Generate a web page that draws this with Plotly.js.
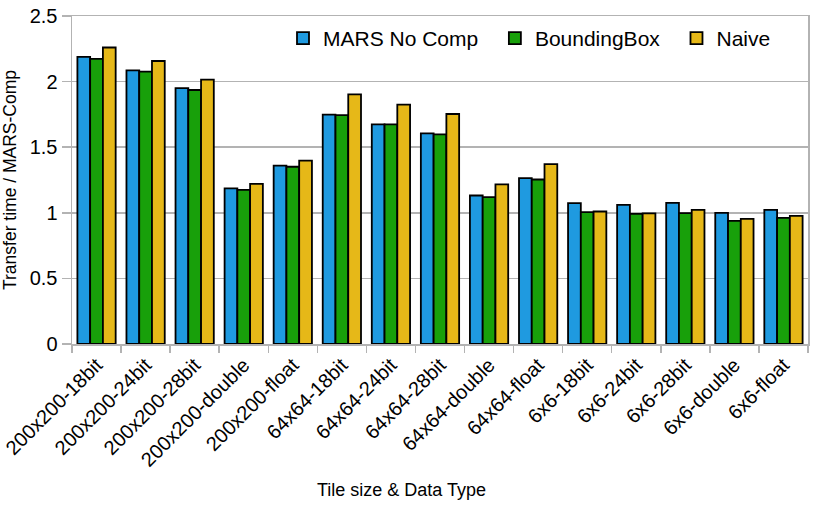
<!DOCTYPE html>
<html><head><meta charset="utf-8">
<script src="https://cdn.plot.ly/plotly-3.0.1.min.js"></script>
<style>html,body{margin:0;padding:0;background:#fff}#c{width:830px;height:507px}</style>
</head><body><div id="c"></div>
<script>
const categories = ["200x200-18bit","200x200-24bit","200x200-28bit","200x200-double","200x200-float","64x64-18bit","64x64-24bit","64x64-28bit","64x64-double","64x64-float","6x6-18bit","6x6-24bit","6x6-28bit","6x6-double","6x6-float"];
const marsNoComp = [2.188,2.086,1.951,1.186,1.359,1.748,1.674,1.605,1.132,1.264,1.074,1.061,1.076,1.000,1.023];
const boundingBox = [2.173,2.076,1.936,1.175,1.351,1.745,1.674,1.598,1.119,1.254,1.005,0.992,0.997,0.939,0.962];
const naive = [2.260,2.157,2.015,1.221,1.397,1.903,1.824,1.753,1.216,1.371,1.010,0.995,1.023,0.954,0.977];
const seriesNames = ["MARS No Comp","BoundingBox","Naive"];
const colors = ["#1f9ae0","#18a00a","#e6b818"];
const vals = [marsNoComp, boundingBox, naive];
const font = "Liberation Sans, Arial, sans-serif";
const traces = vals.map((v,i)=>({
  type:"bar", x:categories, y:v, name:seriesNames[i] + "\u00a0\u00a0",
  marker:{color:colors[i], line:{color:"#000", width:1.8}}
}));
const layout = {
  width:830, height:507,
  margin:{l:72, r:22, t:16, b:163},
  paper_bgcolor:"#fff", plot_bgcolor:"#fff",
  font:{family:font, size:20, color:"#000"},
  barmode:"group", bargap:0.22, bargroupgap:0,
  showlegend:true,
  legend:{orientation:"h", x:(283-72)/736, xanchor:"left", y:1-(2/328), yanchor:"top",
    font:{family:font, size:21}, bgcolor:"rgba(0,0,0,0)", itemwidth:30, borderwidth:0},
  xaxis:{type:"category", tickangle:-45, tickson:"boundaries", ticks:"outside", ticklen:7,
    tickcolor:"#b3b3b3", tickwidth:1.5, showline:true, linecolor:"#b3b3b3", linewidth:1.5, mirror:true,
    showgrid:false, tickfont:{family:font, size:20}, automargin:false},
  yaxis:{range:[0,2.5], dtick:0.5, ticks:"outside", ticklen:9, tickcolor:"#b3b3b3", tickwidth:1.5,
    showline:true, linecolor:"#b3b3b3", linewidth:1.5, mirror:true,
    showgrid:true, gridcolor:"#b3b3b3", gridwidth:1.5, zeroline:false,
    tickfont:{family:font, size:20}, automargin:false,
    title:{text:"Transfer time / MARS-Comp", font:{family:font, size:17.5}, standoff:8}},
  annotations:[{text:"Tile size & Data Type", xref:"paper", yref:"paper", x:(401-72)/736, xanchor:"center", y:-(490-344)/328, yanchor:"middle",
    showarrow:false, font:{family:font, size:18}}]
};
Plotly.newPlot("c", traces, layout, {displayModeBar:false, staticPlot:true});
</script></body></html>
